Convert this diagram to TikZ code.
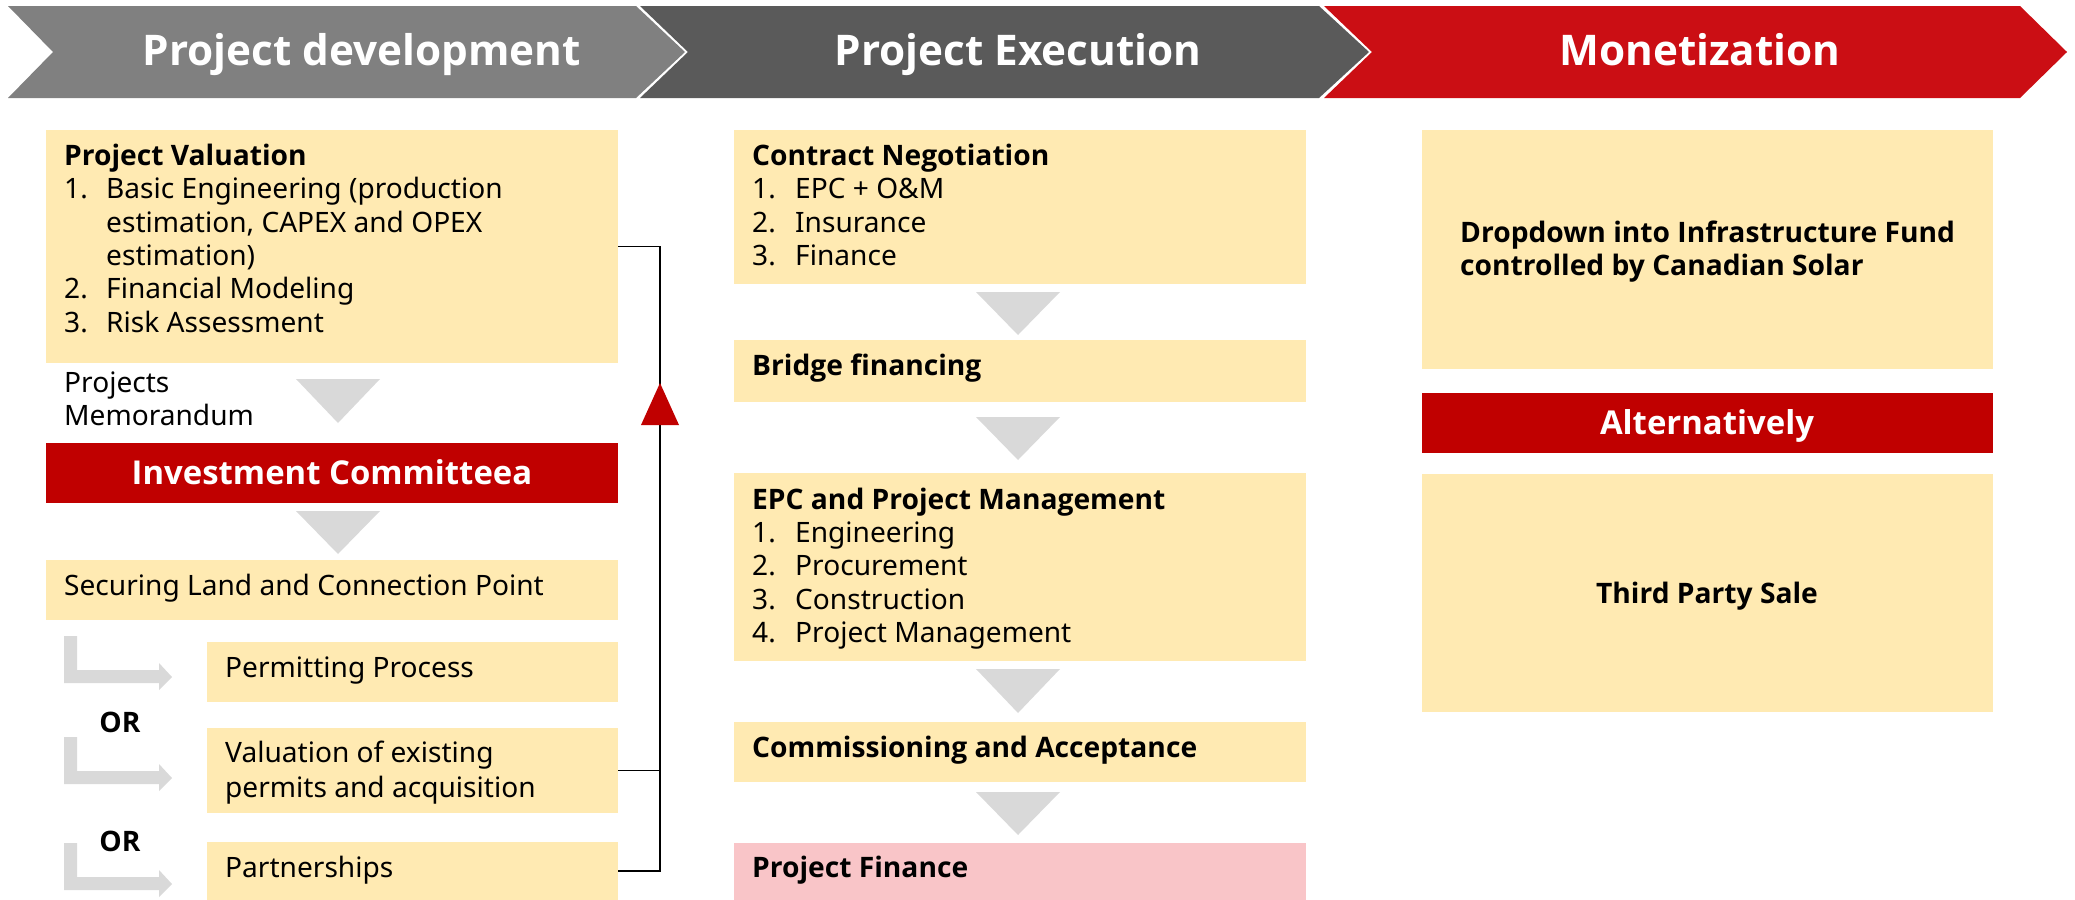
\documentclass[tikz,border=0pt]{standalone}
\usepackage{fontspec}
\setmainfont{Noto Sans}
\newfontfamily\boldfam{Open Sans}
\definecolor{boxy}{HTML}{FFEAB2}
\definecolor{pinkb}{HTML}{F9C5C8}
\definecolor{redbar}{HTML}{C00000}
\definecolor{redhead}{HTML}{CB0E14}
\definecolor{greyone}{HTML}{808080}
\definecolor{greytwo}{HTML}{5A5A5A}
\definecolor{tri}{HTML}{D9D9D9}
\newcommand{\fsz}{\fontsize{28.2}{33.4}\selectfont}
\newcommand{\bsz}{\boldfam\fontsize{28.3}{33.4}\selectfont\bfseries}
\newcommand{\rsz}{\boldfam\fontsize{33}{38}\selectfont\bfseries}
\newcommand{\hsz}{\boldfam\fontsize{42.4}{50}\selectfont\bfseries}
\tikzset{
  box/.style={fill=boxy, draw=none, anchor=north west, inner sep=0pt, outer sep=0pt},
  pbox/.style={box, fill=pinkb},
  rbar/.style={box, fill=redbar},
  txt/.style={anchor=base west, inner sep=0pt, font=\fsz},
  btxt/.style={anchor=base west, inner sep=0pt, font=\bsz},
  wtxt/.style={anchor=base, inner sep=0pt, font=\rsz, text=white},
  htxt/.style={anchor=base, inner sep=0pt, font=\hsz, text=white},
  downtri/.style={fill=tri},
  lar/.style={fill=tri},
  conn/.style={draw=black, line width=1.5bp},
}
\begin{document}
\begin{tikzpicture}[x=1bp,y=-1bp]
\useasboundingbox (0,0) rectangle (2075,900);
% header chevrons
\fill[greyone] (8,6) -- (636,6) -- (685,52) -- (636,98) -- (8,98) -- (53,52) -- cycle;
\fill[greytwo] (640,6) -- (1319,6) -- (1369,52) -- (1319,98) -- (640,98) -- (688,52) -- cycle;
\fill[redhead] (1324,6) -- (2020,6) -- (2067,52) -- (2020,98) -- (1324,98) -- (1372,52) -- cycle;
\node[htxt] (h1) at (362,65) {Project development};
\node[htxt] (h2) at (1018,65) {Project Execution};
\node[htxt] (h3) at (1700,65) {Monetization};

% ---------- left column ----------
\node[box, minimum width=572bp, minimum height=233bp] (pv) at (46,130) {};
\node[btxt] (pv0) at (64,165) {Project Valuation};
\node[txt] (pv1n) at (64,198) {1.};
\node[txt] (pv1) at (106,198) {Basic Engineering (production};
\node[txt] (pv1b) at (106,232) {estimation, CAPEX and OPEX};
\node[txt] (pv1c) at (106,265) {estimation)};
\node[txt] (pv2n) at (64,298) {2.};
\node[txt] (pv2) at (106,298) {Financial Modeling};
\node[txt] (pv3n) at (64,332) {3.};
\node[txt] (pv3) at (106,332) {Risk Assessment};

\node[txt] (pm1) at (64,392) {Projects};
\node[txt] (pm2) at (64,425) {Memorandum};
\fill[downtri] (296,379) -- (380,379) -- (338,423) -- cycle;

\node[rbar, minimum width=572bp, minimum height=60bp] (ic) at (46,443) {};
\node[wtxt] (ict) at (332,484) {Investment Committeea};
\fill[downtri] (296,511) -- (380,511) -- (338,554) -- cycle;

\node[box, minimum width=572bp, minimum height=60bp] (sl) at (46,560) {};
\node[txt] (slt) at (64,595) {Securing Land and Connection Point};

\node[box, minimum width=411bp, minimum height=60bp] (perm) at (207,642) {};
\node[txt] (permt) at (225,677) {Permitting Process};
\node[box, minimum width=411bp, minimum height=85bp] (val) at (207,728) {};
\node[txt] (valt1) at (225,762) {Valuation of existing};
\node[txt] (valt2) at (225,797) {permits and acquisition};
\node[box, minimum width=411bp, minimum height=58bp] (part) at (207,842) {};
\node[txt] (partt) at (225,877) {Partnerships};

\node[anchor=center, inner sep=0pt, font=\bsz] (or1) at (120,722) {OR};
\node[anchor=center, inner sep=0pt, font=\bsz] (or2) at (120,841) {OR};

\foreach \d in {0,101,207}{
  \fill[lar] (64,636+\d) -- (77,636+\d) -- (77,670+\d) -- (159,670+\d) -- (159,663+\d)
     -- (172,677+\d) -- (159,690+\d) -- (159,683+\d) -- (64,683+\d) -- cycle;
}

% bracket connector
\draw[conn] (part.east) -- ++(42,0) coordinate (brb) |- (pv.east);
\draw[conn] (val.east) -- (val.east -| brb);
\fill[redbar] (660,383) -- (641,425) -- (679,425) -- cycle;

% ---------- middle column ----------
\node[box, minimum width=572bp, minimum height=154bp] (cn) at (734,130) {};
\node[btxt] (cn0) at (752,165) {Contract Negotiation};
\node[txt] (cn1n) at (752,198) {1.};
\node[txt] (cn1) at (795,198) {EPC + O\&M};
\node[txt] (cn2n) at (752,232) {2.};
\node[txt] (cn2) at (795,232) {Insurance};
\node[txt] (cn3n) at (752,265) {3.};
\node[txt] (cn3) at (795,265) {Finance};
\fill[downtri] (976,292) -- (1060,292) -- (1018,335) -- cycle;

\node[box, minimum width=572bp, minimum height=62bp] (bf) at (734,340) {};
\node[btxt] (bft) at (752,375) {Bridge financing};
\fill[downtri] (976,417) -- (1060,417) -- (1018,460) -- cycle;

\node[box, minimum width=572bp, minimum height=188bp] (epc) at (734,473) {};
\node[btxt] (epc0) at (752,509) {EPC and Project Management};
\node[txt] (epc1n) at (752,542) {1.};
\node[txt] (epc1) at (795,542) {Engineering};
\node[txt] (epc2n) at (752,575) {2.};
\node[txt] (epc2) at (795,575) {Procurement};
\node[txt] (epc3n) at (752,609) {3.};
\node[txt] (epc3) at (795,609) {Construction};
\node[txt] (epc4n) at (752,642) {4.};
\node[txt] (epc4) at (795,642) {Project Management};
\fill[downtri] (976,669) -- (1060,669) -- (1018,713) -- cycle;

\node[box, minimum width=572bp, minimum height=60bp] (ca) at (734,722) {};
\node[btxt] (cat) at (752,757) {Commissioning and Acceptance};
\fill[downtri] (976,792) -- (1060,792) -- (1018,835) -- cycle;

\node[pbox, minimum width=572bp, minimum height=57bp] (pf) at (734,843) {};
\node[btxt] (pft) at (752,877) {Project Finance};

% ---------- right column ----------
\node[box, minimum width=571bp, minimum height=239bp] (dd) at (1422,130) {};
\node[btxt] (dd1) at (1460,242) {Dropdown into Infrastructure Fund};
\node[btxt] (dd2) at (1460,275) {controlled by Canadian Solar};
\node[rbar, minimum width=571bp, minimum height=60bp] (alt) at (1422,393) {};
\node[wtxt] (altt) at (1707,434) {Alternatively};
\node[box, minimum width=571bp, minimum height=238bp] (tps) at (1422,474) {};
\node[anchor=base, inner sep=0pt, font=\bsz] (tpst) at (1707,603) {Third Party Sale};
\end{tikzpicture}
\end{document}
